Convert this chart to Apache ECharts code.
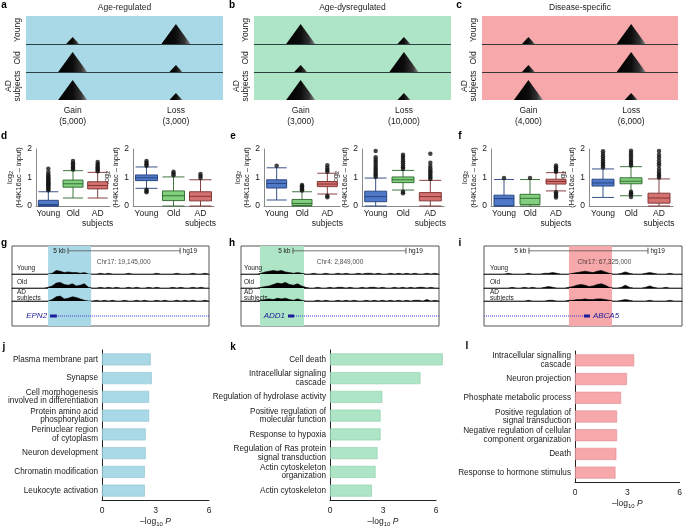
<!DOCTYPE html>
<html><head><meta charset="utf-8">
<script src="https://cdn.jsdelivr.net/npm/echarts/dist/echarts.min.js"></script>
<style>html,body{margin:0;padding:0;background:#fff}#c{width:685px;height:528px}</style>
</head><body><div id="c"></div><script>
const FONT = 'Liberation Sans, Arial, Helvetica, sans-serif';
const TXT = '#1a1a1a';

// ---------- a–c : peak schematics ----------
const peakTitles = ['Age-regulated', 'Age-dysregulated', 'Disease-specific'];
const peakCols = ['Gain', 'Loss'];
const peakCounts = [['5,000', '3,000'], ['3,000', '10,000'], ['4,000', '6,000']];
const peakRows = ['Young', 'Old', 'AD\nsubjects'];
// level per row (Young, Old, AD): 1 = large peak, 0 = small peak
const gainA = [0, 1, 1], lossA = [1, 0, 0];
const gainB = [1, 0, 1], lossB = [0, 1, 0];
const gainC = [0, 0, 1], lossC = [1, 1, 0];
const peakBg = ['#a9d9e6', '#ade5c6', '#f7a8aa'];

// ---------- d–f : box plots  [whiskerLow, Q1, median, Q3, whiskerHigh] ----------
const groups = ['Young', 'Old', 'AD\nsubjects'];
const dLeftBox = [[0, 0, 0.05, 0.2, 0.5], [0.28, 0.66, 0.78, 0.91, 1.24], [0.28, 0.6, 0.72, 0.85, 1.18]];
const dLeftOut = [[0.55, 0.6, 0.63, 0.68, 0.71, 0.76, 0.8, 0.83, 0.88, 0.92, 0.95, 1.0, 1.05, 1.1, 1.18, 1.31], [1.28, 1.33, 1.38, 1.45, 1.5, 1.58], [1.22, 1.27, 1.31, 1.36, 1.41, 1.47, 1.54]];
const dRightBox = [[0.62, 0.89, 0.99, 1.09, 1.37], [0, 0.19, 0.36, 0.53, 1.02], [0, 0.18, 0.34, 0.5, 0.92]];
const dRightOut = [[0.48, 0.53, 0.57, 1.41, 1.46, 1.52, 1.58], [1.08, 1.14, 1.2], [0.98, 1.05, 1.12]];
const eLeftBox = [[0.21, 0.63, 0.79, 0.92, 1.34], [0, 0.02, 0.09, 0.23, 0.5], [0.42, 0.68, 0.77, 0.86, 1.15]];
const eLeftOut = [[1.41], [0.54, 0.59, 0.64, 0.69, 0.74], [0.31, 0.36, 1.2, 1.26, 1.33, 1.43]];
const eRightBox = [[0, 0.15, 0.33, 0.52, 0.98], [0.56, 0.82, 0.92, 1.02, 1.25], [0, 0.18, 0.33, 0.47, 0.9]];
const eRightOut = [[1.02, 1.08, 1.14, 1.2, 1.27, 1.33, 1.4, 1.47, 1.55, 1.62, 1.71, 1.93], [0.45, 0.5, 1.3, 1.36, 1.42, 1.5, 1.57, 1.65, 1.73, 1.8], [0.95, 1.0, 1.06, 1.12, 1.18, 1.25, 1.32, 1.4, 1.52, 1.83]];
const fLeftBox = [[0, 0, 0.26, 0.38, 0.93], [0, 0.05, 0.27, 0.41, 0.93], [0.53, 0.77, 0.86, 0.94, 1.17]];
const fLeftOut = [[0.98], [0.98], [0.3, 0.36, 0.42, 0.48, 1.2, 1.25, 1.3, 1.36, 1.42]];
const fRightBox = [[0.3, 0.7, 0.81, 0.94, 1.3], [0.36, 0.78, 0.87, 0.99, 1.38], [0, 0.1, 0.28, 0.45, 0.95]];
const fRightOut = [[1.35, 1.41, 1.47, 1.53, 1.6, 1.67, 1.75, 1.83, 1.92], [0.32, 0.4, 0.45, 0.5, 1.42, 1.48, 1.55, 1.62, 1.7, 1.78, 1.86, 1.94], [1.0, 1.06, 1.12, 1.2, 1.3, 1.42, 1.5, 1.6, 1.7, 1.8, 1.93]];
const bpTicks = [0, 1, 2];

// ---------- g–i : genome browser tracks (signal per bin, 50 bins) ----------
const gYoung = [0,0,0,0,0,0,0,0,0,0, 1,5,4,2,3,2,2,1,2,0, 0,0,1,0,1,0,0,0,0,1, 0,0,0,0,0,0,1,0,0,0, 0,1,0,0,0,1,0,0,1,0];
const gOld   = [0,0,0,0,0,0,0,0,0,1, 3,7,8,5,4,6,3,4,6,1, 0,0,1,0,1,0,1,0,0,1, 0,1,0,0,1,0,1,0,0,0, 1,0,1,0,0,1,0,1,0,0];
const gAD    = [0,0,0,0,0,0,0,0,0,0, 2,6,7,3,4,6,5,3,1,0, 0,1,0,1,0,1,0,0,1,0, 0,1,0,1,0,0,1,0,1,0, 0,1,0,1,0,1,0,0,1,0];
const hYoung = [0,0,0,0,0,1,3,4,5,4, 5,3,2,1,2,1,0,0,1,0, 0,1,0,0,1,0,1,0,0,1, 0,1,1,0,1,0,0,1,0,1, 0,1,0,1,0,0,1,0,1,0];
const hOld   = [0,0,0,0,0,1,2,3,5,7, 6,8,5,4,6,3,1,0,0,1, 0,0,1,0,1,1,0,1,0,0, 1,0,1,1,0,1,0,0,1,0, 1,0,1,0,1,1,0,1,0,0];
const hAD    = [0,0,0,0,0,1,2,3,2,4, 3,4,2,1,3,1,0,0,0,1, 0,1,0,0,1,0,1,0,1,0, 0,1,0,1,0,1,0,1,0,1, 0,1,0,1,1,0,2,0,1,0];
const iYoung = [0,0,0,0,0,0,1,0,0,0, 0,1,0,0,0,1,1,2,1,0, 0,0,1,2,3,4,3,2,4,5, 3,1,0,0,1,3,1,0,0,0, 1,2,1,0,0,0,1,0,0,0];
const iOld   = [0,0,0,0,0,0,0,1,0,0, 1,0,1,0,0,1,2,1,0,0, 0,1,2,4,5,4,2,3,5,6, 4,1,0,0,1,4,1,0,0,0, 1,3,1,0,0,1,0,0,0,0];
const iAD    = [0,0,0,0,0,0,0,0,0,0, 0,1,0,0,0,0,1,1,0,0, 0,1,1,2,2,3,2,2,3,3, 2,1,0,0,1,2,1,0,0,0, 0,1,0,0,0,0,1,0,0,0];
const trackNames = ['Young', 'Old', 'AD\nsubjects'];
// genomic layout in kb
const gSpan = 8.79, gHighlight = [1.61, 3.53], gScale = [2.5, 7.5], gChr = 'Chr17: 19,145,000', gChrPos = 4.98, gGene = 'EPN2', gGeneLine = [1.7, 8.79], gGeneBlock = [1.7, 2.0];
const hSpan = 8.76, hHighlight = [0.84, 2.79], hScale = [2.3, 7.3], hChr = 'Chr4: 2,849,000', hChrPos = 4.38, hGene = 'ADD1', hGeneLine = [2.08, 8.76], hGeneBlock = [2.08, 2.35];
const iSpan = 8.32, iHighlight = [3.57, 5.38], iScale = [1.89, 6.89], iChr = 'Chr17: 67,325,000', iChrPos = 5.06, iGene = 'ABCA5', iGeneLine = [0, 4.45], iGeneBlock = [4.2, 4.45];

// ---------- j–l : GO enrichment ----------
const jTerms = ['Plasma membrane part', 'Synapse', 'Cell morphogenesis\ninvolved in differentiation', 'Protein amino acid\nphosphorylation', 'Perinuclear region\nof cytoplasm', 'Neuron development', 'Chromatin modification', 'Leukocyte activation'];
const jVals = [2.73, 2.79, 2.64, 2.64, 2.45, 2.45, 2.4, 2.4];
const kTerms = ['Cell death', 'Intracellular signaling\ncascade', 'Regulation of hydrolase activity', 'Positive regulation of\nmolecular function', 'Response to hypoxia', 'Regulation of Ras protein\nsignal transduction', 'Actin cytoskeleton\norganization', 'Actin cytoskeleton'];
const kVals = [6.38, 5.12, 2.96, 2.86, 2.86, 2.69, 2.58, 2.37];
const lTerms = ['Intracellular signalling\ncascade', 'Neuron projection', 'Phosphate metabolic process', 'Positive regulation of\nsignal transduction', 'Negative regulation of cellular\ncomponent organization', 'Death', 'Response to hormone stimulus'];
const lVals = [3.39, 2.98, 2.64, 2.41, 2.41, 2.37, 2.32];
const goTicks = [0, 3, 6];

// =====================================================================
const option = { animation: false, textStyle: { fontFamily: FONT }, grid: [], xAxis: [], yAxis: [], series: [], graphic: [] };
const addGrid = g => (option.grid.push(g), option.grid.length - 1);
const addX = a => (option.xAxis.push(a), option.xAxis.length - 1);
const addY = a => (option.yAxis.push(a), option.yAxis.length - 1);
const txt = (x, y, text, o = {}) => option.graphic.push({ type: 'text', x, y, silent: true, z: 100,
  style: Object.assign({ text, fontFamily: FONT, fontSize: 8.5, fill: TXT, align: 'center', verticalAlign: 'middle' }, o) });

// panel letters
[['a', 4, 5], ['b', 232, 5], ['c', 459, 5], ['d', 4, 136], ['e', 233, 136], ['f', 460, 136],
 ['g', 4, 243], ['h', 232, 243], ['i', 460, 243], ['j', 4, 347], ['k', 233, 347], ['l', 467, 346]]
  .forEach(([t, x, y]) => txt(x, y, t, { fontWeight: 'bold', fontSize: 10, fill: '#000' }));

// ---- a–c
const peakGeo = [{ left: 26, width: 197 }, { left: 254, width: 197 }, { left: 482, width: 196 }];
const peakLevels = [[gainA, lossA], [gainB, lossB], [gainC, lossC]];
const triFill = new echarts.graphic.LinearGradient(0, 0, 1, 0, [
  { offset: 0, color: '#000' }, { offset: 0.5, color: '#0c0c0c' }, { offset: 0.8, color: '#333' }, { offset: 1, color: '#8a8a8a' }]);
peakTitles.forEach((title, p) => {
  const geo = peakGeo[p];
  txt(geo.left + geo.width / 2, 8, title, { fontSize: 8.5 });
  const gi = addGrid({ left: geo.left, width: geo.width, top: 16, height: 84, show: true, backgroundColor: peakBg[p], borderWidth: 0 });
  const labels = peakCols.map((c, k) => c + '\n(' + peakCounts[p][k] + ')');
  const xi = addX({ type: 'value', gridIndex: gi, min: -0.452, max: 1.456, splitLine: { show: false },
    axisLine: { show: false }, axisTick: { show: false },
    axisLabel: { customValues: [0, 1], formatter: v => labels[Math.round(v)], fontSize: 8.5, color: TXT, lineHeight: 11, margin: 5 } });
  addY({ type: 'category', gridIndex: gi, data: peakRows.slice().reverse(), axisLine: { show: false }, axisTick: { show: false },
    axisLabel: { rotate: 90, fontSize: 8.5, lineHeight: 9, color: TXT, margin: 4, interval: 0, hideOverlap: false } });
  const yv = addY({ type: 'value', gridIndex: gi, min: 0, max: 3, show: false });
  const big = [], small = [];
  peakLevels[p].forEach((lv, k) => lv.forEach((L, r) => (L ? big : small).push([k, 2 - r])));
  option.series.push({ type: 'scatter', xAxisIndex: xi, yAxisIndex: yv, data: big, symbol: 'triangle', symbolSize: [29, 20],
    symbolOffset: [0, '-50%'], itemStyle: { color: triFill, opacity: 1 }, z: 5, silent: true,
    markLine: { silent: true, symbol: 'none', label: { show: false }, lineStyle: { color: 'rgba(20,35,35,0.85)', width: 1, type: 'solid' },
      data: [{ yAxis: 1 }, { yAxis: 2 }] } });
  option.series.push({ type: 'scatter', xAxisIndex: xi, yAxisIndex: yv, data: small, symbol: 'triangle', symbolSize: [13, 7],
    symbolOffset: [0, '-50%'], itemStyle: { color: triFill, opacity: 1 }, z: 5, silent: true });
});

// ---- d–f box plots
const bpGeo = [{ left: 36, width: 74 }, { left: 133, width: 81 }, { left: 264, width: 76 }, { left: 362, width: 82 }, { left: 491, width: 78 }, { left: 589, width: 84 }];
const bpBoxes = [dLeftBox, dRightBox, eLeftBox, eRightBox, fLeftBox, fRightBox];
const bpOuts = [dLeftOut, dRightOut, eLeftOut, eRightOut, fLeftOut, fRightOut];
const boxFill = ['#4f78c6', '#82cf7e', '#d47271'];
const boxLine = ['#22407c', '#2c662c', '#7a2c2c'];
bpBoxes.forEach((boxes, b) => {
  const geo = bpGeo[b];
  const gi = addGrid({ left: geo.left, width: geo.width, top: 149, height: 57 });
  const xi = addX({ type: 'category', gridIndex: gi, data: groups, axisLine: { lineStyle: { color: '#8a8a8a', width: 1 } }, axisTick: { show: false },
    axisLabel: { fontSize: 8.5, color: TXT, lineHeight: 10, margin: 3, interval: 0 } });
  const yi = addY({ type: 'value', gridIndex: gi, min: bpTicks[0], max: bpTicks[2], interval: 1, splitLine: { show: false },
    axisLine: { show: true, lineStyle: { color: '#8a8a8a', width: 1 } }, axisTick: { show: false },
    axisLabel: { fontSize: 8.5, color: TXT, margin: 4 },
    name: 'log{s|2}\n(H4K16ac – input)', nameLocation: 'middle', nameGap: 10,
    nameTextStyle: { fontSize: 7.5, color: TXT, lineHeight: 9, rich: { s: { fontSize: 5.5, verticalAlign: 'bottom', padding: [3, 0, 0, 0] } } } });
  option.series.push({ type: 'boxplot', xAxisIndex: xi, yAxisIndex: yi, boxWidth: b % 2 ? [22, 22] : [20, 20], silent: true,
    data: boxes.map((v, g) => ({ value: v, itemStyle: { color: boxFill[g], borderColor: boxLine[g], borderWidth: 0.9 } })) });
  const outs = [];
  bpOuts[b].forEach((arr, g) => arr.forEach(v => outs.push([g, v])));
  option.series.push({ type: 'scatter', xAxisIndex: xi, yAxisIndex: yi, data: outs, symbol: 'circle', symbolSize: 4.5,
    itemStyle: { color: '#151515' }, silent: true, z: 4 });
});

// ---- g–i genome browser
const gPanels = [
  { left: 12, width: 197, span: gSpan, hl: gHighlight, hlColor: '#a9d9e6', scale: gScale, chr: gChr, chrPos: gChrPos, gene: gGene, geneLine: gGeneLine, geneBlock: gGeneBlock, side: 'left', tracks: [gYoung, gOld, gAD], labX: 17 },
  { left: 241, width: 198, span: hSpan, hl: hHighlight, hlColor: '#ade5c6', scale: hScale, chr: hChr, chrPos: hChrPos, gene: hGene, geneLine: hGeneLine, geneBlock: hGeneBlock, side: 'left', tracks: [hYoung, hOld, hAD], labX: 244 },
  { left: 484, width: 198, span: iSpan, hl: iHighlight, hlColor: '#f7a8aa', scale: iScale, chr: iChr, chrPos: iChrPos, gene: iGene, geneLine: iGeneLine, geneBlock: iGeneBlock, side: 'right', tracks: [iYoung, iOld, iAD], labX: 490 }];
const trackTops = [267, 281, 294];
const trackLabelY = [[268], [282], [292, 298]];
gPanels.forEach(P => {
  const gi = addGrid({ left: P.left, width: P.width, top: 246, height: 80, show: true, borderColor: '#555', borderWidth: 1, backgroundColor: 'transparent' });
  const xi = addX({ type: 'value', gridIndex: gi, min: 0, max: P.span, show: false });
  const yi = addY({ type: 'value', gridIndex: gi, min: 0, max: 10, show: false });
  const lab = { fontSize: 6.5, color: TXT, distance: 2 };
  option.series.push({ type: 'line', xAxisIndex: xi, yAxisIndex: yi, z: 3, silent: true, symbol: 'rect', symbolSize: [1, 6], showSymbol: true,
    itemStyle: { color: '#555' }, lineStyle: { color: '#555', width: 0.8 },
    data: [{ value: [P.scale[0], 9.4], label: Object.assign({ show: true, position: 'left', formatter: '5 kb' }, lab) },
           { value: [P.scale[1], 9.4], label: Object.assign({ show: true, position: 'right', formatter: 'hg19' }, lab) }],
    markArea: { silent: true, itemStyle: { color: P.hlColor, opacity: 1 }, data: [[{ xAxis: P.hl[0] }, { xAxis: P.hl[1] }]] } });
  option.series.push({ type: 'scatter', xAxisIndex: xi, yAxisIndex: yi, z: 4, silent: true, symbolSize: 0,
    data: [{ value: [P.chrPos, 8.0], label: { show: true, position: 'inside', formatter: P.chr, fontSize: 6.5, color: TXT } }] });
  option.series.push({ type: 'line', xAxisIndex: xi, yAxisIndex: yi, z: 4, silent: true, showSymbol: false,
    lineStyle: { color: '#3b3bd0', width: 1, type: [1, 1] }, data: [[P.geneLine[0], 1.25], [P.geneLine[1], 1.25]] });
  option.series.push({ type: 'line', xAxisIndex: xi, yAxisIndex: yi, z: 5, silent: true, symbolSize: 0, showSymbol: true,
    lineStyle: { color: '#1c1c9c', width: 3 },
    data: [{ value: [P.side === 'left' ? P.geneBlock[0] : P.geneBlock[1], 1.25],
             label: { show: true, position: P.side, distance: 3, formatter: P.gene, fontSize: 8, fontStyle: 'italic', color: '#1c1c9c' } },
           [P.side === 'left' ? P.geneBlock[1] : P.geneBlock[0], 1.25]] });
  P.tracks.forEach((vals, t) => {
    const tg = addGrid({ left: P.left, width: P.width, top: trackTops[t], height: 7 });
    const tx = addX({ type: 'category', gridIndex: tg, boundaryGap: false, data: vals.map((_, i) => i),
      axisLine: { lineStyle: { color: '#111', width: 0.8 } }, axisTick: { show: false }, axisLabel: { show: false } });
    const ty = addY({ type: 'value', gridIndex: tg, min: 0, max: 10, show: false });
    option.series.push({ type: 'line', xAxisIndex: tx, yAxisIndex: ty, data: vals, showSymbol: false, z: 6, silent: true,
      lineStyle: { color: '#000', width: 0.6 }, areaStyle: { color: '#000', opacity: 1 } });
    const names = trackNames[t].split('\n');
    names.forEach((nm, k) => txt(P.labX, trackLabelY[t][k], nm, { fontSize: 6.5, align: 'left' }));
  });
});

// ---- j–l GO bars
const goPanels = [
  { terms: jTerms, vals: jVals, left: 102, width: 107, top: 350, height: 151, fill: '#a9d9e6', edge: '#8bc0cf' },
  { terms: kTerms, vals: kVals, left: 330, width: 106, top: 350, height: 151, fill: '#ade5c6', edge: '#8ccca6' },
  { terms: lTerms, vals: lVals, left: 575, width: 107, top: 351, height: 131, fill: '#f7a8aa', edge: '#de8b8e' }];
goPanels.forEach(P => {
  const gi = addGrid({ left: P.left, width: P.width, top: P.top, height: P.height });
  const xi = addX({ type: 'value', gridIndex: gi, min: goTicks[0], max: goTicks[2], interval: 3, splitLine: { show: false },
    axisLine: { show: true, lineStyle: { color: '#222', width: 1 } }, axisTick: { show: false },
    axisLabel: { fontSize: 8.5, color: TXT, margin: 6 },
    name: '–log{s|10} {i|P}', nameLocation: 'middle', nameGap: 17,
    nameTextStyle: { fontSize: 8.5, color: TXT, rich: { s: { fontSize: 6, verticalAlign: 'bottom', padding: [4, 0, 0, 0] }, i: { fontSize: 8.5, fontStyle: 'italic' } } } });
  const yi = addY({ type: 'category', gridIndex: gi, data: P.terms, inverse: true,
    axisLine: { show: true, lineStyle: { color: '#222', width: 1 } }, axisTick: { show: false },
    axisLabel: { fontSize: 8.2, color: TXT, lineHeight: 8.5, margin: 4, interval: 0 } });
  option.series.push({ type: 'bar', xAxisIndex: xi, yAxisIndex: yi, data: P.vals, barWidth: 12, clip: false, silent: true,
    itemStyle: { color: P.fill, borderColor: P.edge, borderWidth: 0.6 } });
});

const chart = echarts.init(document.getElementById('c'), null, { renderer: 'canvas' });
chart.setOption(option);
</script></body></html>
